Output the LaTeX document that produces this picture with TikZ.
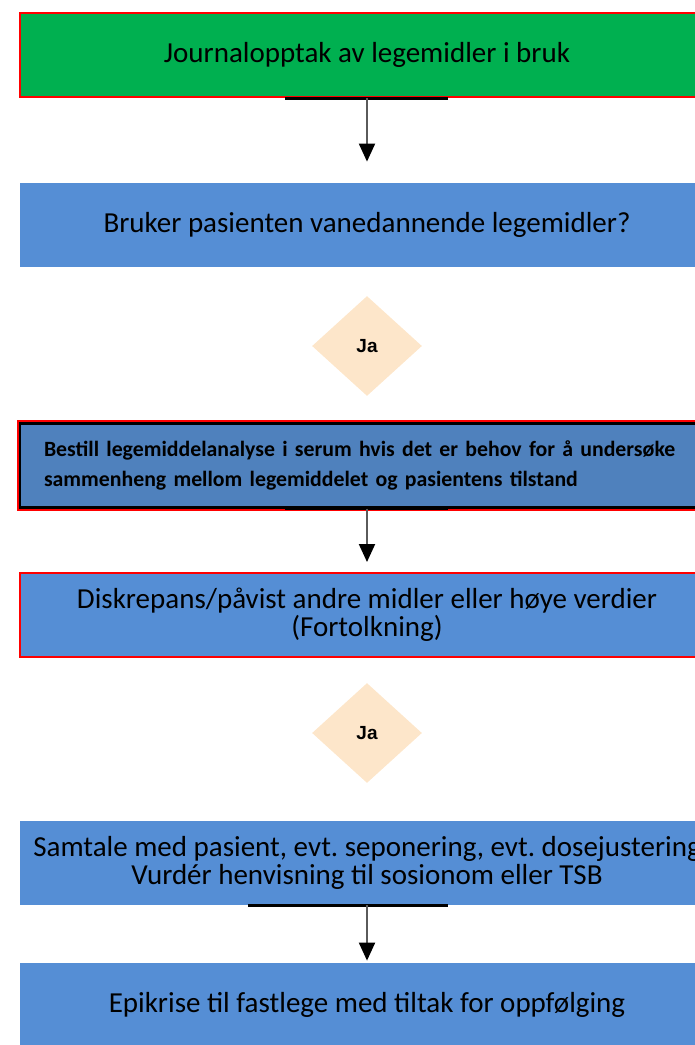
\documentclass[tikz,border=0pt]{standalone}
\usepackage{fontspec}
\setmainfont{Carlito}
\newfontfamily\jafont{Liberation Sans}
\usetikzlibrary{shapes.geometric,arrows.meta}
\frenchspacing
\definecolor{boksgronn}{HTML}{00B050}
\definecolor{boksbla}{HTML}{558ED5}
\definecolor{boksbla2}{HTML}{4F81BD}
\definecolor{ruterfarge}{HTML}{FDE6CA}
\definecolor{pilgra}{HTML}{5A5A5A}
\tikzset{
  boks/.style={rectangle, fill=boksbla, minimum width=347pt, minimum height=42pt,
    inner sep=2pt, align=center, font=\fontsize{14.5}{14}\selectfont},
  rodkant/.style={draw=red, line width=1pt},
  ruter/.style={diamond, fill=ruterfarge, minimum width=55pt, minimum height=50pt,
    inner sep=0pt, font=\jafont\bfseries\fontsize{9.5}{10}\selectfont},
  pil/.style={draw=pilgra, line width=1pt, -{Triangle[black,width=8pt,length=9pt]}},
  strek/.style={line width=1.5pt, black}
}
\begin{document}
\begin{tikzpicture}[x=0.5pt, y=-0.5pt]
  \useasboundingbox (0,0) rectangle (695,1045);
  \clip (0,0) rectangle (695,1045);
  % bokser
  \node[boks, rodkant, fill=boksgronn] (journal) at (367,55) {Journalopptak av legemidler i bruk};
  \node[boks] (bruker) at (367,225) {Bruker pasienten vanedannende legemidler?};
  \node[ruter] (ja1) at (367,346) {Ja};
  \node[boks, fill=boksbla2, draw=black, line width=1.2pt, preaction={draw=red, line width=3.5pt},
    align=left, text width=323pt, inner xsep=12pt, inner ysep=2pt, minimum height=42pt,
    font=\bfseries\fontsize{10.9}{15}\selectfont]
    (bestill) at (367,465.5) {\raisebox{2pt}{Bestill legemiddelanalyse i serum hvis det er behov for å undersøke}\\
    \raisebox{2pt}{sammenheng mellom legemiddelet og pasientens tilstand}};
  \node[boks, rodkant] (diskrepans) at (367,615) {Diskrepans/påvist andre midler eller høye verdier\\(Fortolkning)};
  \node[ruter] (ja2) at (367,733) {Ja};
  \node[boks] (samtale) at (367,863) {Samtale med pasient, evt. seponering, evt. dosejustering\\
    Vurdér henvisning til sosionom eller TSB};
  \node[boks] (epikrise) at (367,1005) {Epikrise til fastlege med tiltak for oppfølging};
  % streker
  \draw[strek] ([xshift=-41pt]journal.south) -- ([xshift=40.5pt]journal.south);
  \draw[strek] ([xshift=-41pt]bestill.south) -- ([xshift=40.5pt]bestill.south);
  \draw[strek] ([xshift=-59.5pt]samtale.south) -- ([xshift=40.5pt]samtale.south);
  % piler
  \draw[pil, shorten >=10.5pt] (journal.south) -- (bruker.north);
  \draw[pil, shorten >=5pt] (bestill.south) -- (diskrepans.north);
  \draw[pil] (samtale.south) -- ([yshift=1pt]epikrise.north);
\end{tikzpicture}
\end{document}
